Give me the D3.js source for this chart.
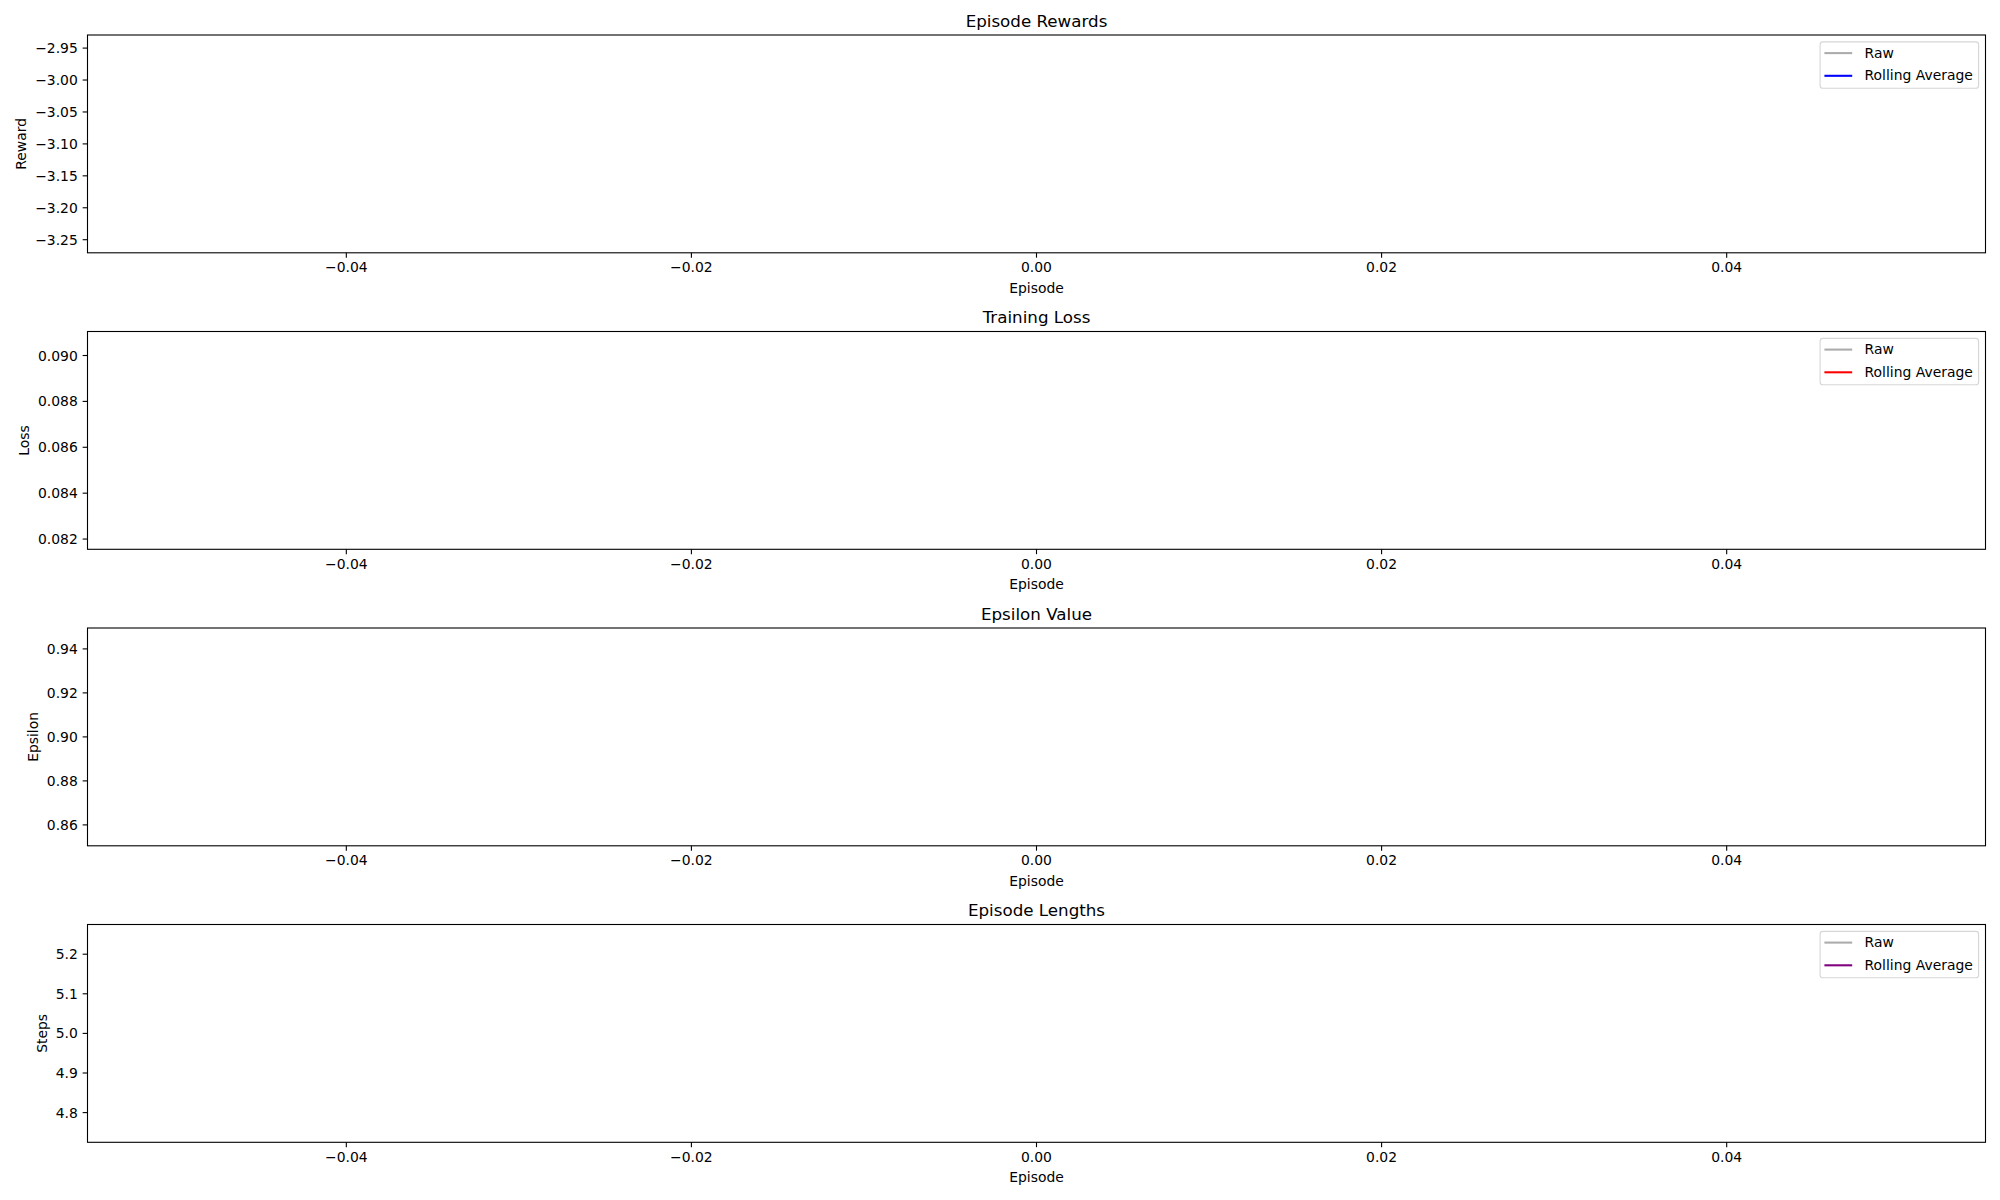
<!DOCTYPE html>
<html>
<head>
<meta charset="utf-8">
<script src="https://cdn.jsdelivr.net/npm/d3@7"></script>
<style>
  html, body { margin: 0; padding: 0; background: #ffffff; }
  svg { display: block; }
  text { font-family: "DejaVu Sans", sans-serif; fill: #000; }
</style>
</head>
<body>
<svg id="chart" width="2000" height="1200"></svg>
<script>
// ---- Data (one logged episode) ----
const episodes = [0];
const rewards = [-3.1];
const rewardsRolling = [-3.1];
const losses = [0.0863];
const lossesRolling = [0.0863];
const epsilons = [0.9];
const lengths = [5];
const lengthsRolling = [5];

// ---- Tick values ----
const episodeTicks = [-0.04, -0.02, 0.00, 0.02, 0.04];
const rewardTicks = [-2.95, -3.00, -3.05, -3.10, -3.15, -3.20, -3.25];
const lossTicks = [0.082, 0.084, 0.086, 0.088, 0.090];
const epsilonTicks = [0.86, 0.88, 0.90, 0.92, 0.94];
const stepTicks = [4.8, 4.9, 5.0, 5.1, 5.2];

// ---- Panel descriptions ----
const panelTitles = ["Episode Rewards", "Training Loss", "Epsilon Value", "Episode Lengths"];
const panelYLabels = ["Reward", "Loss", "Epsilon", "Steps"];
const legendLabels = ["Raw", "Rolling Average"];

const panels = [
  { title: panelTitles[0], ylabel: panelYLabels[0], raw: rewards, roll: rewardsRolling, rollColor: "#0000ff", ticks: rewardTicks, fmt: ".2f", legend: true },
  { title: panelTitles[1], ylabel: panelYLabels[1], raw: losses, roll: lossesRolling, rollColor: "#ff0000", ticks: lossTicks, fmt: ".3f", legend: true },
  { title: panelTitles[2], ylabel: panelYLabels[2], raw: epsilons, roll: null, rollColor: null, ticks: epsilonTicks, fmt: ".2f", legend: false, single: "#008000" },
  { title: panelTitles[3], ylabel: panelYLabels[3], raw: lengths, roll: lengthsRolling, rollColor: "#800080", ticks: stepTicks, fmt: ".1f", legend: true }
];

// ---- Layout ----
const W = 2000, H = 1200;
const left = 87.5, right = 1985.5;
const tops = [35, 331.5, 628, 924.5];
const ph = 217.8;
const tickLen = 4.86, tickPad = 4.86;
const fs = 13.9;   // 10pt
const titleFs = 16.7; // 12pt

const svg = d3.select("#chart");

// matplotlib-like autoscale for constant data
function mplDomain(vals) {
  let lo = d3.min(vals), hi = d3.max(vals);
  if (lo === hi) {
    if (lo === 0) { lo = -0.05; hi = 0.05; }
    else { lo = lo - 0.05 * Math.abs(lo); hi = hi + 0.05 * Math.abs(hi); }
  }
  const m = (hi - lo) * 0.05;
  return [lo - m, hi + m];
}

const x = d3.scaleLinear().domain(mplDomain(episodes)).range([left, right]);
const fmtX = d3.format(".2f");

panels.forEach((p, i) => {
  const top = tops[i], bottom = top + ph;
  const allY = p.roll ? p.raw.concat(p.roll) : p.raw;
  const y = d3.scaleLinear().domain(mplDomain(allY)).range([bottom, top]);
  const g = svg.append("g");

  // lines (single point -> nothing visible, like matplotlib)
  const line = d3.line().x((d, k) => x(episodes[k])).y(d => y(d));
  const clipId = "clip" + i;
  svg.append("clipPath").attr("id", clipId).append("rect")
    .attr("x", left).attr("y", top).attr("width", right - left).attr("height", ph);
  const lg = g.append("g").attr("clip-path", `url(#${clipId})`);
  if (p.single) {
    lg.append("path").datum(p.raw).attr("d", line).attr("fill", "none")
      .attr("stroke", p.single).attr("stroke-width", 2.08);
  } else {
    lg.append("path").datum(p.raw).attr("d", line).attr("fill", "none")
      .attr("stroke", "#808080").attr("stroke-opacity", 0.65).attr("stroke-width", 2.08);
    lg.append("path").datum(p.roll).attr("d", line).attr("fill", "none")
      .attr("stroke", p.rollColor).attr("stroke-width", 2.08);
  }

  // frame
  g.append("rect").attr("x", left).attr("y", top).attr("width", right - left).attr("height", ph)
    .attr("fill", "none").attr("stroke", "#000").attr("stroke-width", 1.1);

  // x ticks
  episodeTicks.forEach(t => {
    const xx = x(t);
    g.append("line").attr("x1", xx).attr("x2", xx).attr("y1", bottom).attr("y2", bottom + tickLen)
      .attr("stroke", "#000").attr("stroke-width", 1.1);
    g.append("text").attr("x", xx).attr("y", bottom + 19.4).attr("text-anchor", "middle")
      .attr("font-size", fs).text(fmtX(t));
  });
  g.append("text").attr("x", (left + right) / 2).attr("y", bottom + 39.7).attr("text-anchor", "middle")
    .attr("font-size", fs).text("Episode");

  // y ticks
  const fmtY = d3.format(p.fmt);
  let minLeft = Infinity;
  p.ticks.forEach(t => {
    const yy = y(t);
    g.append("line").attr("x1", left - tickLen).attr("x2", left).attr("y1", yy).attr("y2", yy)
      .attr("stroke", "#000").attr("stroke-width", 1.1);
    const tx = g.append("text").attr("x", left - tickLen - tickPad).attr("y", yy).attr("dy", "0.36em")
      .attr("text-anchor", "end").attr("font-size", fs).text(fmtY(t));
    const bb = tx.node().getBBox();
    minLeft = Math.min(minLeft, bb.x);
  });
  const ylx = minLeft - 5.56 - 3.3;
  const ylyc = (top + bottom) / 2;
  g.append("text").attr("transform", `translate(${ylx},${ylyc}) rotate(-90)`)
    .attr("text-anchor", "middle").attr("font-size", fs).text(p.ylabel);

  // title
  g.append("text").attr("x", (left + right) / 2).attr("y", top - 8.3).attr("text-anchor", "middle")
    .attr("font-size", titleFs).text(p.title);

  // legend
  if (p.legend) {
    const lgW = 158.5, lgH = 46.4;
    const lx = right - 6.9 - lgW, ly = top + 6.9;
    const leg = g.append("g");
    leg.append("rect").attr("x", lx).attr("y", ly).attr("width", lgW).attr("height", lgH)
      .attr("rx", 2.8).attr("ry", 2.8)
      .attr("fill", "#ffffff").attr("fill-opacity", 0.8)
      .attr("stroke", "#cccccc").attr("stroke-opacity", 0.8).attr("stroke-width", 1.1);
    const colors = ["#808080", p.rollColor];
    const opac = [0.65, 1];
    legendLabels.forEach((lab, k) => {
      const ry = ly + 11.2 + k * 22.7;
      leg.append("line").attr("x1", lx + 4.3).attr("x2", lx + 32.1).attr("y1", ry).attr("y2", ry)
        .attr("stroke", colors[k]).attr("stroke-opacity", opac[k]).attr("stroke-width", 2.08);
      leg.append("text").attr("x", lx + 44.5).attr("y", ry + 4.4).attr("font-size", fs).text(lab);
    });
  }
});
</script>
</body>
</html>
